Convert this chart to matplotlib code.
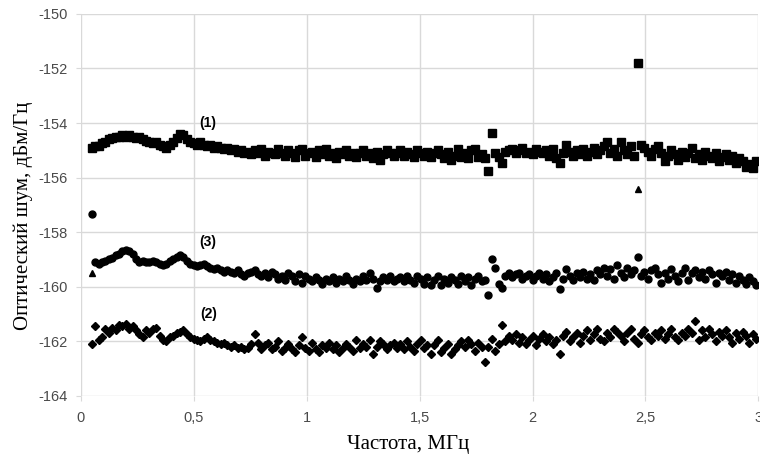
import numpy as np
import matplotlib
matplotlib.use("Agg")
import matplotlib.pyplot as plt
from matplotlib.ticker import FuncFormatter

# frequency grid of the sweep, MHz (0.05 ... 2.99)
freq = np.round(np.arange(0.05, 2.995, 0.015), 3)

# (1) squares
noise_1 = [
    -154.9, -154.85, -154.85, -154.75, -154.7, -154.6, -154.55, -154.5, -154.5, -154.45,
    -154.5, -154.45, -154.5, -154.55, -154.5, -154.6, -154.65, -154.7, -154.75, -154.7,
    -154.8, -154.85, -154.9, -154.8, -154.7, -154.55, -154.4, -154.45, -154.6, -154.7,
    -154.75, -154.8, -154.7, -154.8, -154.85, -154.8, -154.9, -154.85, -154.9, -154.95,
    -154.9, -155.0, -154.95, -155.05, -155.0, -155.1, -155.05, -155.15, -155.0, -155.1,
    -154.95, -155.2, -155.05, -155.1, -155.15, -154.95, -155.1, -155.2, -155.0, -155.1,
    -155.25, -155.0, -154.95, -155.2, -155.1, -155.05, -155.25, -155.0, -155.15, -154.95,
    -155.2, -155.1, -155.3, -155.05, -155.15, -155.0, -155.2, -155.1, -155.25, -155.1,
    -155.0, -155.2, -155.1, -155.3, -155.05, -155.35, -155.15, -155.0, -155.1, -155.2,
    -155.1, -155.0, -155.2, -155.05, -155.15, -155.25, -155.0, -155.1, -155.2, -155.05,
    -155.25, -155.1, -155.0, -155.15, -155.3, -155.05, -155.35, -155.2, -154.95, -155.25,
    -155.1, -155.3, -155.0, -154.95, -155.25, -155.15, -155.3, -155.75, -154.35, -155.1,
    -155.25, -155.45, -155.05, -155.0, -154.95, -155.1, -155.0, -154.9, -155.1, -155.05,
    -155.15, -154.95, -155.05, -155.1, -155.0, -155.2, -154.95, -155.3, -155.45, -155.1,
    -154.8, -155.05, -155.2, -155.0, -155.15, -154.95, -155.2, -155.05, -154.9, -155.15,
    -155.0, -154.85, -154.7, -155.1, -154.95, -155.2, -154.7, -155.0, -155.15, -154.85,
    -155.2, -151.8, -154.8, -154.9, -155.05, -155.2, -154.95, -154.85, -155.1, -155.4,
    -155.2, -155.0, -155.15, -155.35, -155.05, -155.25, -155.1, -154.9, -155.3, -155.15,
    -155.35, -155.05, -155.2, -155.3, -155.1, -155.4, -155.25, -155.15, -155.35, -155.2,
    -155.45, -155.3, -155.4, -155.6, -155.5, -155.65, -155.4,
]

# (3) circles
noise_3 = [
    -157.35, -159.1, -159.15, -159.1, -159.05, -159.0, -158.95, -158.85, -158.8, -158.7,
    -158.65, -158.7, -158.8, -159.0, -159.1, -159.05, -159.1, -159.1, -159.05, -159.1,
    -159.15, -159.2, -159.15, -159.05, -159.0, -158.9, -158.85, -158.9, -159.05, -159.15,
    -159.2, -159.25, -159.2, -159.15, -159.25, -159.3, -159.35, -159.3, -159.4, -159.45,
    -159.4, -159.45, -159.5, -159.4, -159.55, -159.6, -159.5, -159.45, -159.4, -159.55,
    -159.6, -159.5, -159.65, -159.45, -159.55, -159.7, -159.6, -159.75, -159.5, -159.6,
    -159.8, -159.55, -159.85, -159.6, -159.7, -159.8, -159.65, -159.75, -159.9, -159.7,
    -159.8, -159.65, -159.85, -159.7, -159.8, -159.6, -159.75, -159.9, -159.7, -159.8,
    -159.6, -159.75, -159.5, -159.7, -160.05, -159.8, -159.65, -159.75, -159.6, -159.8,
    -159.7, -159.65, -159.8, -159.6, -159.75, -159.85, -159.6, -159.7, -159.9, -159.65,
    -159.95, -159.75, -159.6, -159.95, -159.7, -159.85, -159.65, -159.75, -159.9, -159.6,
    -159.8, -159.65, -159.95, -159.7, -159.6, -159.8, -159.75, -160.3, -159.0, -159.3,
    -159.9, -160.05, -159.6, -159.5, -159.65, -159.55, -159.5, -159.7, -159.6, -159.55,
    -159.75, -159.6, -159.5, -159.7, -159.55, -159.8, -159.65, -159.5, -160.1, -159.7,
    -159.35, -159.6, -159.75, -159.5, -159.65, -159.45, -159.7, -159.55, -159.75, -159.4,
    -159.55, -159.3, -159.6, -159.35, -159.7, -159.2, -159.5, -159.65, -159.3, -159.55,
    -159.4, -158.9, -159.6, -159.45, -159.7, -159.4, -159.3, -159.55, -159.85, -159.5,
    -159.7, -159.35, -159.6, -159.8, -159.5, -159.3, -159.75, -159.5, -159.4, -159.65,
    -159.45, -159.7, -159.4, -159.55, -159.85, -159.5, -159.6, -159.45, -159.75, -159.55,
    -159.85, -159.6, -159.75, -159.9, -159.65, -159.8, -159.95,
]

# triangles left uncovered by the circles
tri_freq = [0.05, 2.465]
tri_noise = [-159.5, -156.4]

# (2) diamonds
noise_2 = [
    -162.1, -161.45, -161.95, -161.85, -161.55, -161.7, -161.5, -161.6, -161.4, -161.45,
    -161.35, -161.55, -161.45, -161.6, -161.75, -161.85, -161.6, -161.7, -161.55, -161.5,
    -161.8, -161.95, -162.0, -161.85, -161.8, -161.7, -161.65, -161.6, -161.75, -161.85,
    -161.9, -161.95, -162.0, -161.9, -161.85, -161.95, -162.0, -162.05, -162.1, -162.05,
    -162.15, -162.2, -162.15, -162.25, -162.2, -162.3, -162.25, -162.1, -161.75, -162.05,
    -162.3, -162.15, -162.05, -162.3, -162.2, -162.0, -162.35, -162.25, -162.1, -162.3,
    -162.4, -162.15, -161.85, -162.25, -162.35, -162.05, -162.3, -162.4, -162.15, -162.25,
    -162.05, -162.3, -162.15, -162.4, -162.25, -162.1, -162.2, -162.35, -161.95, -162.25,
    -162.1, -162.2, -161.95, -162.45, -162.2, -162.0, -162.1, -162.3, -162.15, -162.05,
    -162.25, -162.1, -162.3, -162.0, -162.2, -162.35, -162.1, -161.95, -162.25, -162.15,
    -162.45, -162.15, -161.95, -162.4, -162.25, -162.1, -162.45, -162.3, -162.15, -162.0,
    -162.2, -161.95, -162.1, -162.35, -162.05, -162.2, -162.75, -162.2, -161.9, -162.35,
    -162.1, -161.4, -162.0, -161.8, -161.95, -161.75, -162.05, -161.85, -162.1, -161.95,
    -161.8, -162.15, -161.9, -161.75, -162.0, -161.85, -162.1, -161.95, -162.45, -161.8,
    -161.65, -162.0, -161.85, -161.7, -162.05, -161.8, -161.6, -161.95, -161.75, -161.55,
    -161.9, -162.0, -161.7, -161.85, -161.55, -161.65, -161.8, -162.0, -161.7, -161.55,
    -161.9, -162.05, -161.75, -161.6, -161.85, -161.95, -161.7, -161.8, -161.6, -161.9,
    -161.75, -161.55, -161.85, -161.95, -161.7, -161.8, -161.55, -161.7, -161.25, -161.95,
    -161.6, -161.85, -161.55, -161.75, -162.0, -161.65, -161.8, -161.6, -161.85, -162.05,
    -161.7, -161.9, -161.65, -161.8, -162.05, -161.75, -161.9,
]

x_ticks = [0, 0.5, 1, 1.5, 2, 2.5, 3]
y_ticks = [-164, -162, -160, -158, -156, -154, -152, -150]

fig = plt.figure(figsize=(7.6, 4.63), dpi=100)
ax = fig.add_axes([0.106, 0.145, 0.892, 0.825])

ax.plot(freq, noise_1, linestyle="none", marker="s", ms=5.6, color="black")
ax.plot(tri_freq, tri_noise, linestyle="none", marker="^", ms=4.4, color="black")
ax.plot(freq, noise_3, linestyle="none", marker="o", ms=5.0, color="black")
ax.plot(freq, noise_2, linestyle="none", marker="D", ms=3.6, color="black")

label_font = dict(fontsize=10, fontweight="bold", family="Liberation Sans")
ax.text(0.565, -154.0, "(1)", ha="center", va="center", **label_font)
ax.text(0.565, -158.35, "(3)", ha="center", va="center", **label_font)
ax.text(0.565, -161.0, "(2)", ha="center", va="center", **label_font)

ax.set_xlim(0, 3)
ax.set_ylim(-164, -150)
ax.set_xticks(x_ticks)
ax.set_yticks(y_ticks)
ax.xaxis.set_major_formatter(FuncFormatter(lambda v, p: f"{v:g}".replace(".", ",")))
ax.yaxis.set_major_formatter(FuncFormatter(lambda v, p: f"{v:g}"))

ax.grid(True, color="#d9d9d9", linewidth=1)
ax.set_axisbelow(True)
for side in ax.spines.values():
    side.set_visible(False)
ax.tick_params(axis="both", length=3.6, color="#d9d9d9", labelcolor="#4a4a4a",
               labelsize=10.5)
ax.tick_params(axis="y", pad=5.5)
ax.tick_params(axis="x", pad=7)
for lab in ax.get_xticklabels() + ax.get_yticklabels():
    lab.set_family("Liberation Sans")

fig.text(0.537, 0.041, "Частота, МГц", family="Liberation Serif", fontsize=15,
         ha="center", va="center")
fig.text(0.030, 0.533, "Оптический шум, дБм/Гц", family="Liberation Serif",
         fontsize=15, rotation=90, ha="center", va="center")

fig.savefig("out.png", dpi=100)
